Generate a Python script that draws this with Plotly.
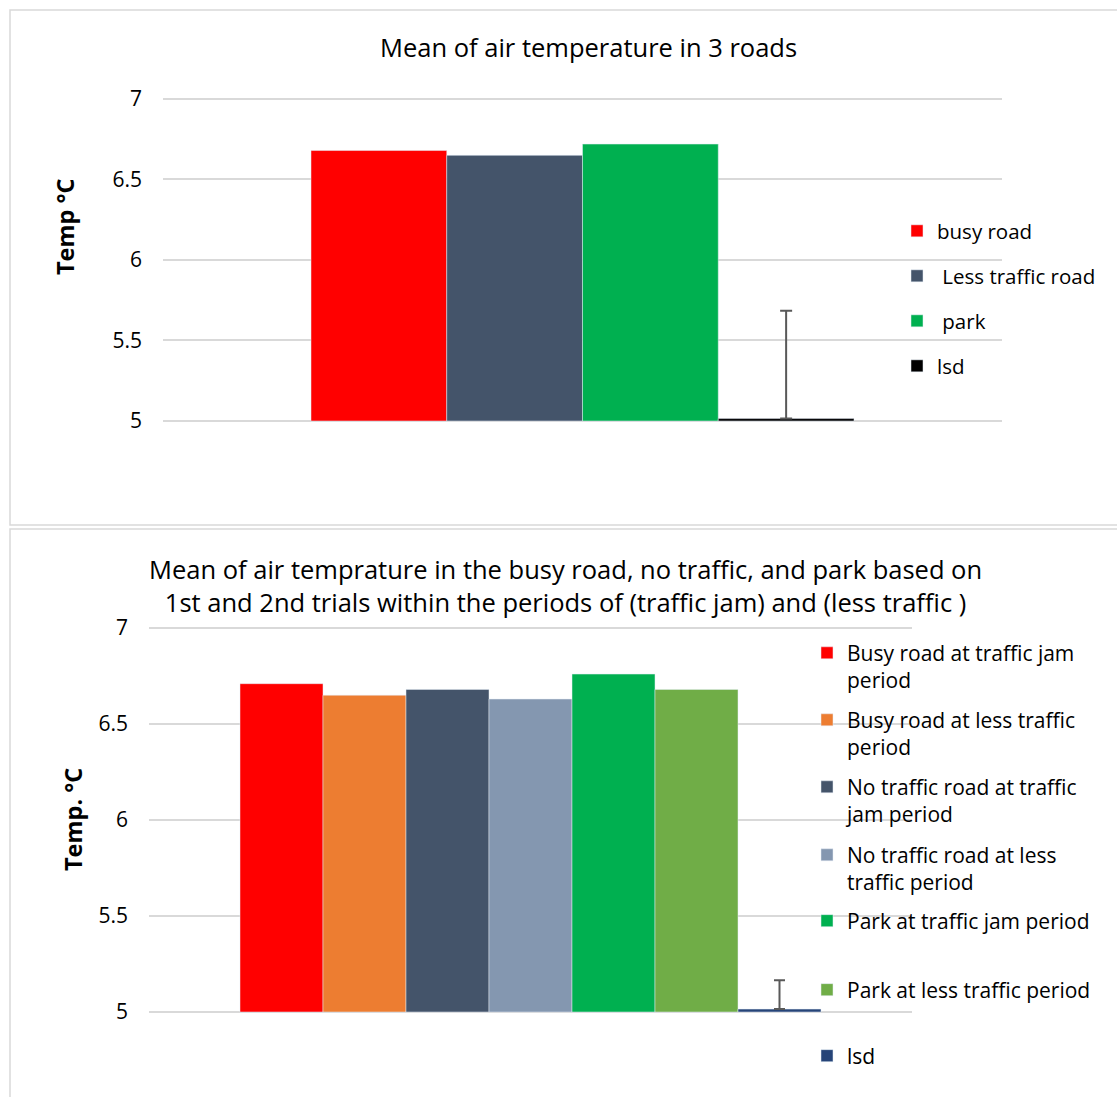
import plotly.graph_objects as go

W, H = 1117, 1097

# ---- data: top chart ----
top_names = ["busy road", "\u00a0Less traffic road", "\u00a0park", "lsd"]
top_values = [6.68, 6.65, 6.72, 5.015]
top_err = [0, 0, 0, 0.67]
top_colors = ["#FF0000", "#44546A", "#00B050", "#000000"]

# ---- data: bottom chart ----
bot_names = [
    "Busy road at traffic jam<br>period",
    "Busy road at less traffic<br>period",
    "No traffic road at traffic<br>jam period",
    "No traffic road at less<br>traffic period",
    "Park at traffic jam period",
    "Park at less traffic period",
    "lsd",
]
bot_values = [6.71, 6.65, 6.68, 6.63, 6.76, 6.68, 5.015]
bot_err = [0, 0, 0, 0, 0, 0, 0.15]
bot_colors = ["#FF0000", "#ED7D31", "#44546A", "#8497B0", "#00B050", "#70AD47", "#264478"]

AXIS_MIN = 5
y_ticks = [5, 5.5, 6, 6.5, 7]
y_tick_text = ["5", "5.5", "6", "6.5", "7"]

FONT = "Open Sans"


def px_x(px):
    return px / W


def px_y(py):
    return 1 - py / H


fig = go.Figure()

# legend entry positions (pixels)
top_leg_y = [231, 276, 321, 366]
bot_leg_y = [653, 720, 787, 855, 921, 990, 1056]
bot_two_line = [True, True, True, True, False, False, False]
BOT_LEG_FS = 21
TOP_LEG_FS = 20.5

legends = {}
k = 1
for i, (n, v, e, c) in enumerate(zip(top_names, top_values, top_err, top_colors)):
    lname = "legend" if k == 1 else f"legend{k}"
    fig.add_trace(go.Bar(
        x=["a"], y=[v - AXIS_MIN], base=[AXIS_MIN], name=n, marker_color=c,
        xaxis="x", yaxis="y", legend=lname,
        error_y=dict(type="data", array=[e], arrayminus=[0], symmetric=False,
                     visible=e > 0, color="#595959", thickness=2, width=6),
    ))
    legends[lname] = dict(x=px_x(897), xanchor="left", y=px_y(top_leg_y[i]), yanchor="middle",
                          font=dict(family=FONT, size=TOP_LEG_FS, color="#000000"),
                          bgcolor="rgba(0,0,0,0)", valign="top")
    k += 1

for i, (n, v, e, c) in enumerate(zip(bot_names, bot_values, bot_err, bot_colors)):
    lname = f"legend{k}"
    fig.add_trace(go.Bar(
        x=["a"], y=[v - AXIS_MIN], base=[AXIS_MIN], name=n, marker_color=c,
        xaxis="x2", yaxis="y2", legend=lname,
        error_y=dict(type="data", array=[e], arrayminus=[0], symmetric=False,
                     visible=e > 0, color="#595959", thickness=2, width=5.5),
    ))
    cy = bot_leg_y[i] + (BOT_LEG_FS * 1.3 / 2 if bot_two_line[i] else 0)
    legends[lname] = dict(x=px_x(807), xanchor="left", y=px_y(cy), yanchor="middle",
                          font=dict(family=FONT, size=BOT_LEG_FS, color="#000000"),
                          bgcolor="rgba(0,0,0,0)", valign="top")
    k += 1

# y ranges slightly padded so that the 5 and 7 gridlines are drawn
PAD = 0.012
top_ppu = (421 - 99) / 2.0
bot_ppu = (1012 - 628) / 2.0

axis_common = dict(
    showgrid=True, gridcolor="#D9D9D9", gridwidth=1.5, zeroline=False,
    tickvals=y_ticks, ticktext=y_tick_text, range=[5 - PAD, 7 + PAD],
    tickfont=dict(family=FONT, size=21, color="#000000"),
    showline=False, ticks="", ticklabelstandoff=20, automargin=False,
)

top_group = 543 / 839
bot_group = 581 / 763

fig.update_layout(
    width=W, height=H,
    margin=dict(l=0, r=0, t=0, b=0, pad=0, autoexpand=False),
    paper_bgcolor="white", plot_bgcolor="white",
    barmode="overlay",
    showlegend=True,
    font=dict(family=FONT, color="#000000"),
    xaxis=dict(domain=[px_x(163), px_x(1002)], anchor="y", showticklabels=False,
               showgrid=False, zeroline=False, ticks="", range=[-0.5, 0.5], automargin=False),
    yaxis=dict(domain=[px_y(421 + PAD * top_ppu), px_y(99 - PAD * top_ppu)], anchor="x",
               **axis_common),
    xaxis2=dict(domain=[px_x(149), px_x(912)], anchor="y2", showticklabels=False,
                showgrid=False, zeroline=False, ticks="", range=[-0.5, 0.5], automargin=False),
    yaxis2=dict(domain=[px_y(1012 + PAD * bot_ppu), px_y(628 - PAD * bot_ppu)], anchor="x2",
                **axis_common),
    **legends,
)

# place the bars of each group side by side within the single category
for i, tr in enumerate(fig.data):
    if tr.xaxis == "x":
        n = len(top_names)
        w = top_group / n
        tr.width = w
        tr.offset = -top_group / 2 + i * w
    else:
        j = i - len(top_names)
        n = len(bot_names)
        w = bot_group / n
        tr.width = w
        tr.offset = -bot_group / 2 + j * w

annotations = [
    dict(text="Mean of air temperature in 3 roads", x=px_x(588), y=px_y(47),
         xref="paper", yref="paper", showarrow=False, xanchor="center", yanchor="middle",
         font=dict(family=FONT, size=25.5, color="#000000")),
    dict(text="Mean of air temprature in the busy road, no traffic, and park based on<br>"
              "1st and 2nd trials within the periods of (traffic jam) and (less traffic )",
         x=px_x(565), y=px_y(585), xref="paper", yref="paper", showarrow=False,
         xanchor="center", yanchor="middle",
         font=dict(family=FONT, size=25.5, color="#000000")),
    dict(text="<b>Temp °C</b>", x=px_x(65), y=px_y(227), xref="paper", yref="paper",
         showarrow=False, textangle=-90, xanchor="center", yanchor="middle",
         font=dict(family=FONT, size=23.5, color="#000000")),
    dict(text="<b>Temp. °C</b>", x=px_x(73), y=px_y(820), xref="paper", yref="paper",
         showarrow=False, textangle=-90, xanchor="center", yanchor="middle",
         font=dict(family=FONT, size=23.5, color="#000000")),
]
fig.update_layout(annotations=annotations)

shapes = [
    dict(type="rect", xref="paper", yref="paper", x0=px_x(10), x1=px_x(1130),
         y0=px_y(525), y1=px_y(10), line=dict(color="#D9D9D9", width=1.5)),
    dict(type="rect", xref="paper", yref="paper", x0=px_x(10), x1=px_x(1130),
         y0=px_y(1110), y1=px_y(529), line=dict(color="#D9D9D9", width=1.5)),
]
fig.update_layout(shapes=shapes)

fig.write_html("out.html", config={"displayModeBar": False},
               post_script="document.body.style.margin='0';")
